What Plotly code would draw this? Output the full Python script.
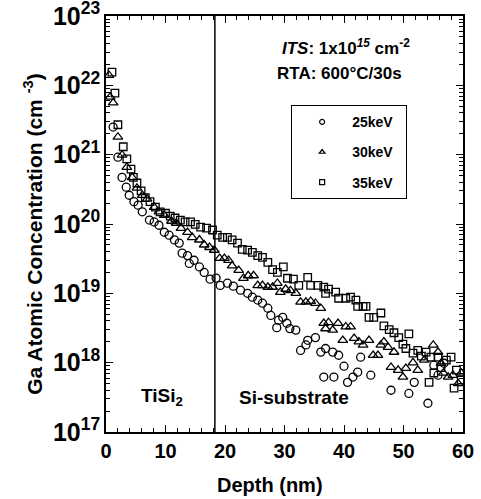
import plotly.graph_objects as go

# ---- data (depth in nm, Ga concentration in cm^-3) ----
points_25kev = [
    (1.2, 2.5e21), (2.0, 9.2e20), (2.7, 4.7e20), (3.4, 3.4e20), (3.9, 2.6e20),
    (4.7, 2.1e20), (5.4, 1.87e20), (6.1, 1.5e20), (7.3, 1.14e20), (8.1, 1.07e20),
    (8.9, 9.6e19), (9.8, 7.6e19), (10.6, 6.9e19), (11.5, 5.9e19), (12.3, 5.3e19),
    (12.8, 3.8e19), (13.7, 3.5e19), (14.0, 2.7e19), (14.8, 3.0e19), (15.7, 2.4e19),
    (16.5, 2.0e19), (17.5, 1.6e19), (18.5, 1.66e19), (19.2, 1.3e19), (20.4, 1.4e19),
    (21.4, 1.27e19), (22.6, 1.11e19), (23.8, 1.0e19), (24.6, 8.8e18), (25.5, 8.0e18),
    (26.3, 7.2e18), (27.2, 6.1e18), (27.7, 4.8e18), (28.7, 3.2e18), (29.0, 4.1e18),
    (29.7, 4.5e18), (30.4, 3.7e18), (30.9, 3.1e18), (31.9, 2.95e18), (32.7, 1.5e18),
    (33.6, 1.8e18), (33.9, 2.1e18), (35.2, 2.3e18), (36.1, 1.42e18), (36.6, 6.2e17),
    (36.9, 1.6e18), (38.1, 1.42e18), (38.3, 6.2e17), (39.1, 1.28e18), (40.0, 8.9e17),
    (40.6, 5.2e17), (41.5, 6.2e17), (42.3, 7.3e17), (42.8, 1.2e18), (44.5, 6.6e17),
    (47.9, 4.0e17), (50.9, 3.6e17), (51.8, 5.2e17), (54.1, 2.6e17), (55.1, 9.2e17),
    (55.8, 6.6e17), (56.8, 9.8e17),
]

points_30kev = [
    (0.5, 1.4e22), (0.7, 6.8e21), (1.2, 5.6e21), (2.0, 1.8e21), (2.7, 9.9e20),
    (3.5, 6.6e20), (4.4, 4.7e20), (5.2, 3.3e20), (6.1, 2.6e20), (6.9, 2.3e20),
    (8.1, 1.75e20), (8.9, 1.5e20), (9.8, 1.34e20), (11.0, 1.1e20), (11.8, 1.03e20),
    (12.6, 8.7e19), (13.7, 7.6e19), (14.5, 6.4e19), (15.7, 5.9e19), (16.5, 5.0e19),
    (17.4, 4.6e19), (18.2, 4.2e19), (19.1, 3.2e19), (19.9, 3.2e19), (20.6, 3.0e19),
    (21.2, 2.5e19), (22.3, 2.15e19), (23.1, 1.65e19), (23.9, 1.8e19), (24.8, 1.8e19),
    (25.5, 1.3e19), (26.3, 1.3e19), (27.2, 1.23e19), (28.0, 1.23e19), (28.8, 1.4e19),
    (29.3, 1.04e19), (30.2, 1.15e19), (31.0, 1.1e19), (31.9, 1.0e19), (32.7, 7.5e18),
    (33.6, 7.5e18), (34.4, 7.7e18), (35.2, 7.2e18), (36.1, 6.1e18), (36.6, 3.7e18),
    (36.9, 3.1e18), (37.4, 3.8e18), (38.1, 2.95e18), (39.0, 3.7e18), (39.8, 2.1e18),
    (40.3, 3.3e18), (41.1, 3.3e18), (41.7, 2.25e18), (42.5, 2.0e18), (43.2, 1.8e18),
    (44.2, 2.1e18), (44.9, 1.28e18), (45.7, 1.28e18), (46.2, 1.8e18), (46.7, 2.0e18),
    (47.4, 1.67e18), (47.9, 8.6e17), (48.4, 1.42e18), (49.1, 7.8e17), (49.9, 6.2e17),
    (50.4, 8.3e17), (51.6, 1.0e18), (52.4, 7.8e17), (53.5, 1.09e18), (55.0, 1.8e18),
    (55.8, 1.42e18), (56.3, 9.8e17), (56.7, 7.1e17), (57.5, 6.2e17), (58.3, 6.6e17),
    (59.2, 5.0e17), (59.7, 7.1e17),
]

points_35kev = [
    (1.0, 1.55e22), (1.5, 7.7e21), (2.0, 2.7e21), (2.9, 1.3e21), (3.5, 8.7e20),
    (4.2, 6.2e20), (4.6, 4.7e20), (5.2, 3.9e20), (5.9, 3.0e20), (6.6, 2.4e20),
    (7.4, 2.1e20), (8.3, 1.75e20), (9.1, 1.5e20), (10.0, 1.43e20), (10.8, 1.3e20),
    (11.6, 1.22e20), (12.5, 1.14e20), (13.3, 1.07e20), (14.2, 1.07e20), (15.0, 9.9e19),
    (15.9, 9.0e19), (16.9, 8.7e19), (17.9, 8.2e19), (18.7, 6.9e19), (19.6, 6.4e19),
    (20.4, 6.4e19), (21.2, 5.9e19), (22.1, 5.3e19), (22.9, 4.3e19), (23.8, 4.2e19),
    (24.6, 3.9e19), (25.5, 3.5e19), (26.3, 3.3e19), (27.2, 2.8e19), (28.0, 2.2e19),
    (28.8, 2.0e19), (29.8, 2.4e19), (30.5, 1.65e19), (31.5, 1.6e19), (32.4, 1.3e19),
    (33.9, 1.7e19), (34.4, 1.3e19), (35.6, 1.3e19), (36.6, 1.23e19), (36.9, 1.0e19),
    (37.4, 1.15e19), (38.6, 1.04e19), (39.1, 8.5e18), (40.3, 8.5e18), (41.1, 8.8e18),
    (42.0, 8.0e18), (42.3, 6.5e18), (43.2, 6.5e18), (43.7, 6.5e18), (44.2, 4.5e18),
    (45.0, 4.5e18), (46.2, 5.2e18), (46.7, 3.4e18), (47.6, 3.0e18), (48.4, 2.7e18),
    (49.2, 2.3e18), (49.9, 1.85e18), (50.4, 1.6e18), (50.9, 2.6e18), (51.6, 1.37e18),
    (52.4, 1.5e18), (53.0, 1.24e18), (53.8, 1.42e18), (54.3, 5.2e17), (54.6, 1.2e18),
    (55.1, 7.1e17), (55.8, 1.2e18), (56.3, 8.5e17), (57.2, 1.09e18), (58.0, 1.2e18),
    (58.5, 4.3e17), (58.9, 7.8e17), (59.7, 5.6e17),
]

series_names = ["25keV", "30keV", "35keV"]
series_points = [points_25kev, points_30kev, points_35kev]
series_symbols = ["circle-open", "triangle-up-open", "square-open"]
series_sizes = [8, 8.5, 7.5]

interface_depth = 18.3  # TiSi2 / Si interface (nm)

FONT = "Liberation Sans, Arial, Helvetica, sans-serif"

fig = go.Figure()
for name, pts, sym, size in zip(series_names, series_points, series_symbols, series_sizes):
    fig.add_trace(go.Scatter(
        x=[p[0] for p in pts], y=[p[1] for p in pts],
        mode="markers", name=name, showlegend=False,
        marker=dict(symbol=sym, size=size, color="black", line=dict(width=1.3, color="black")),
    ))
# legend entries (smaller symbols, as in the reference legend)
for name, sym in zip(series_names, series_symbols):
    fig.add_trace(go.Scatter(
        x=[None], y=[None], mode="markers", name=name + "\u00a0\u00a0", legendgroup=name,
        marker=dict(symbol=sym, size=5, color="black", line=dict(width=1.2, color="black")),
    ))

fig.add_shape(type="line", xref="x", yref="paper", x0=interface_depth, x1=interface_depth,
              y0=0, y1=1, line=dict(color="black", width=1.5))

bold = dict(family=FONT, color="black", weight="bold")
fig.add_annotation(xref="paper", yref="paper", x=0.671, y=0.925, showarrow=False,
                   text="<i>ITS</i>: 1x10<sup><i>15</i></sup> cm<sup>-2</sup>",
                   font=dict(size=17, **bold), xanchor="center", yanchor="middle")
fig.add_annotation(xref="paper", yref="paper", x=0.654, y=0.862, showarrow=False,
                   text="RTA: 600°C/30s", font=dict(size=17, **bold),
                   xanchor="center", yanchor="middle")
fig.add_annotation(xref="paper", yref="paper", x=0.158, y=0.085, showarrow=False,
                   text="TiSi<sub>2</sub>", font=dict(size=19, **bold),
                   xanchor="center", yanchor="middle")
fig.add_annotation(xref="paper", yref="paper", x=0.528, y=0.083, showarrow=False,
                   text="Si-substrate", font=dict(size=19, **bold),
                   xanchor="center", yanchor="middle")
# axis titles (rotated / placed annotations to match the reference positions)
fig.add_annotation(xref="paper", yref="paper", x=-0.205, y=0.476, showarrow=False,
                   text="Ga Atomic Concentration (cm <sup>-3</sup>)", textangle=-90,
                   font=dict(size=21, **bold), xanchor="center", yanchor="middle")
fig.add_annotation(xref="paper", yref="paper", x=0.46, y=-0.127, showarrow=False,
                   text="Depth (nm)", font=dict(size=20, **bold),
                   xanchor="center", yanchor="middle")

axis_common = dict(
    showline=True, linecolor="black", linewidth=1.5, mirror="allticks",
    ticks="inside", tickcolor="black", tickwidth=1.2, ticklen=7,
    showgrid=False, zeroline=False, ticklabeloverflow="allow", automargin=False,
    tickfont=dict(size=20, **bold),
)

fig.update_xaxes(
    range=[0, 60], dtick=10, tick0=0,
    minor=dict(ticks="inside", dtick=2, ticklen=4, tickcolor="black", tickwidth=1, showgrid=False),
    **axis_common,
)
fig.update_yaxes(
    type="log", range=[17, 23], dtick=1, tick0=0, exponentformat="power",
    minor=dict(ticks="inside", dtick="D1", ticklen=4, tickcolor="black", tickwidth=1, showgrid=False),
    **axis_common,
)

fig.update_layout(
    width=481, height=499,
    margin=dict(l=106, r=18, t=16, b=67, autoexpand=False),
    paper_bgcolor="white", plot_bgcolor="white",
    font=dict(family=FONT, color="black"),
    legend=dict(
        x=0.518, y=0.786, xanchor="left", yanchor="top",
        bordercolor="black", borderwidth=1.2, bgcolor="white",
        font=dict(size=14, **bold), itemwidth=50, tracegroupgap=9,
    ),
)

# remove the browser's default 8px body margin so the figure sits at the page origin
fig.write_html("out.html", config={"displayModeBar": False},
               post_script="document.body.style.margin='0';")
